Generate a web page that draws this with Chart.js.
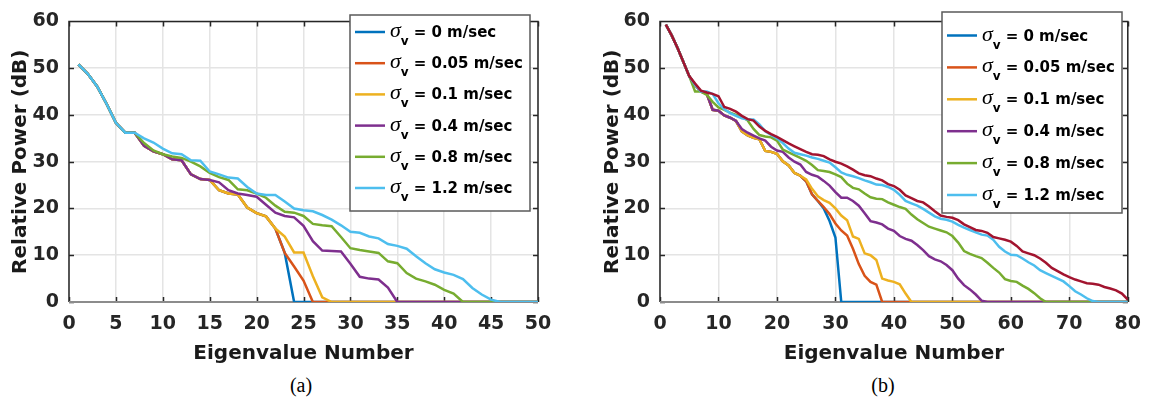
<!DOCTYPE html>
<html>
<head>
<meta charset="utf-8">
<script src="https://cdn.jsdelivr.net/npm/chart.js@4.4.1/dist/chart.umd.min.js"></script>
<style>
  html, body { margin: 0; padding: 0; background: #fff; }
  #wrap { position: relative; width: 1152px; height: 404px; overflow: hidden; }
  .panel { position: absolute; top: 0; width: 576px; height: 372px; }
  .cap { position: absolute; top: 374px; width: 60px; text-align: center;
         font: 20px "Liberation Serif", "Times New Roman", serif; color: #000; }
</style>
</head>
<body>
<div id="wrap">
  <div class="panel" style="left:0"><canvas id="chartA"></canvas></div>
  <div class="panel" style="left:576px"><canvas id="chartB"></canvas></div>
  <div class="cap" style="left:271px">(a)</div>
  <div class="cap" style="left:853px">(b)</div>
</div>
<script>
// sigma_v values used in the legend
const sigmaLabels = ['0', '0.05', '0.1', '0.4', '0.8', '1.2'];
const lineColors = ['#0072BD', '#D95319', '#EDB120', '#7E2F8E', '#77AC30', '#4DBEEE', '#A2142F'];

// (a) 50 eigenvalues
const eigA = Array.from({ length: 50 }, (_, i) => i + 1);
const xTicksA = [0, 5, 10, 15, 20, 25, 30, 35, 40, 45, 50];
const powA_0 = [
  50.8, 48.8, 46.1, 42.4, 38.3, 36.2, 36.2, 33.4, 32.2, 31.6,
  30.5, 30.3, 27.3, 26.3, 26.1, 23.9, 23.2, 23.0, 20.2, 19.0,
  18.3, 15.7, 10.5, 0, 0, 0, 0, 0, 0, 0,
  0, 0, 0, 0, 0, 0, 0, 0, 0, 0,
  0, 0, 0, 0, 0, 0, 0, 0, 0, 0];
const powA_005 = [
  50.8, 48.8, 46.1, 42.4, 38.3, 36.2, 36.2, 33.4, 32.2, 31.6,
  30.5, 30.3, 27.3, 26.3, 26.1, 23.9, 23.2, 23.0, 20.2, 19.0,
  18.3, 15.7, 10.5, 7.6, 4.6, 0, 0, 0, 0, 0,
  0, 0, 0, 0, 0, 0, 0, 0, 0, 0,
  0, 0, 0, 0, 0, 0, 0, 0, 0, 0];
const powA_01 = [
  50.8, 48.8, 46.1, 42.4, 38.3, 36.2, 36.2, 33.4, 32.2, 31.6,
  30.5, 30.3, 27.3, 26.3, 26.1, 23.9, 23.2, 23.0, 20.2, 19.0,
  18.3, 15.7, 14.0, 10.6, 10.6, 5.5, 1.0, 0, 0, 0,
  0, 0, 0, 0, 0, 0, 0, 0, 0, 0,
  0, 0, 0, 0, 0, 0, 0, 0, 0, 0];
const powA_04 = [
  50.8, 48.8, 46.1, 42.4, 38.3, 36.2, 36.2, 33.4, 32.2, 31.6,
  30.5, 30.3, 27.3, 26.3, 26.1, 25.6, 23.9, 23.2, 22.9, 22.5,
  20.8, 19.1, 18.4, 18.1, 16.3, 13.0, 11.0, 10.9, 10.8, 8.2,
  5.4, 5.0, 4.8, 3.1, 0, 0, 0, 0, 0, 0,
  0, 0, 0, 0, 0, 0, 0, 0, 0, 0];
const powA_08 = [
  50.8, 48.8, 46.1, 42.4, 38.3, 36.2, 36.2, 34.0, 32.4, 31.6,
  31.1, 30.8, 30.0, 29.0, 27.6, 26.7, 26.1, 24.1, 23.9, 23.2,
  22.3, 20.6, 19.3, 19.1, 18.4, 16.7, 16.4, 16.2, 13.9, 11.5,
  11.1, 10.8, 10.5, 8.7, 8.3, 6.2, 5.0, 4.4, 3.7, 2.6,
  1.8, 0, 0, 0, 0, 0, 0, 0, 0, 0];
const powA_12 = [
  50.8, 48.8, 46.1, 42.4, 38.3, 36.2, 36.2, 35.0, 34.1, 32.8,
  31.8, 31.6, 30.3, 30.2, 27.9, 27.3, 26.6, 26.4, 24.6, 23.2,
  22.9, 22.9, 21.5, 20.0, 19.6, 19.4, 18.6, 17.6, 16.4, 15.0,
  14.8, 14.0, 13.6, 12.4, 12.0, 11.4, 9.8, 8.3, 7.0, 6.3,
  5.8, 4.9, 3.0, 1.6, 0.5, 0, 0, 0, 0, 0];

// (b) 80 eigenvalues
const eigB = Array.from({ length: 80 }, (_, i) => i + 1);
const xTicksB = [0, 10, 20, 30, 40, 50, 60, 70, 80];
const powB_0 = [
  59.3, 57.0, 54.3, 51.3, 48.3, 46.4, 45.0, 44.5, 41.1, 40.9,
  39.9, 39.4, 38.7, 36.5, 35.6, 35.1, 34.8, 32.3, 32.1, 31.7,
  30.1, 29.2, 27.6, 27.0, 25.8, 23.0, 21.6, 20.0, 17.3, 13.8,
  0, 0, 0, 0, 0, 0, 0, 0, 0, 0,
  0, 0, 0, 0, 0, 0, 0, 0, 0, 0,
  0, 0, 0, 0, 0, 0, 0, 0, 0, 0,
  0, 0, 0, 0, 0, 0, 0, 0, 0, 0,
  0, 0, 0, 0, 0, 0, 0, 0, 0, 0];
const powB_005 = [
  59.3, 57.0, 54.3, 51.3, 48.3, 46.4, 45.0, 44.5, 41.1, 40.9,
  39.9, 39.4, 38.7, 36.5, 35.6, 35.1, 34.8, 32.3, 32.1, 31.7,
  30.1, 29.2, 27.6, 27.0, 25.8, 23.0, 21.6, 20.3, 18.8, 16.8,
  15.3, 14.2, 11.4, 8.1, 5.6, 4.3, 3.7, 0, 0, 0,
  0, 0, 0, 0, 0, 0, 0, 0, 0, 0,
  0, 0, 0, 0, 0, 0, 0, 0, 0, 0,
  0, 0, 0, 0, 0, 0, 0, 0, 0, 0,
  0, 0, 0, 0, 0, 0, 0, 0, 0, 0];
const powB_01 = [
  59.3, 57.0, 54.3, 51.3, 48.3, 46.4, 45.0, 44.5, 41.1, 40.9,
  39.9, 39.4, 38.7, 36.5, 35.6, 35.1, 34.8, 32.3, 32.1, 31.7,
  30.1, 29.2, 27.6, 27.0, 26.2, 24.2, 22.6, 21.8, 21.2, 20.0,
  18.5, 17.5, 14.0, 13.5, 10.4, 10.0, 9.0, 5.0, 4.6, 4.3,
  3.8, 1.8, 0, 0, 0, 0, 0, 0, 0, 0,
  0, 0, 0, 0, 0, 0, 0, 0, 0, 0,
  0, 0, 0, 0, 0, 0, 0, 0, 0, 0,
  0, 0, 0, 0, 0, 0, 0, 0, 0, 0];
const powB_04 = [
  59.3, 57.0, 54.3, 51.3, 48.3, 46.4, 45.0, 44.5, 41.1, 40.9,
  39.9, 39.4, 38.7, 37.0, 36.2, 35.6, 35.0, 34.5, 33.2, 32.4,
  32.1, 30.9, 30.0, 29.4, 27.8, 27.2, 26.8, 25.9, 24.9, 23.5,
  22.3, 22.3, 21.6, 20.6, 19.0, 17.3, 17.0, 16.6, 15.7, 15.2,
  14.1, 13.5, 13.1, 12.2, 11.1, 9.8, 9.1, 8.7, 7.9, 6.8,
  5.0, 3.6, 2.7, 1.6, 0.3, 0, 0, 0, 0, 0,
  0, 0, 0, 0, 0, 0, 0, 0, 0, 0,
  0, 0, 0, 0, 0, 0, 0, 0, 0, 0];
const powB_08 = [
  59.3, 57.0, 54.3, 51.3, 48.3, 45.0, 45.0, 44.3, 42.8, 41.6,
  41.1, 40.5, 40.0, 39.6, 38.8, 37.0, 35.7, 35.4, 35.2, 34.5,
  32.6, 32.0, 31.4, 30.8, 30.2, 29.3, 28.2, 28.0, 27.8, 27.3,
  26.7, 25.3, 24.4, 24.1, 23.2, 22.4, 22.1, 22.0, 21.3, 20.8,
  20.3, 19.9, 18.7, 17.7, 16.9, 16.1, 15.7, 15.3, 14.9, 14.1,
  12.7, 10.9, 10.3, 9.8, 9.4, 8.4, 7.3, 6.3, 4.9, 4.5,
  4.3, 3.5, 2.8, 1.9, 0.8, 0, 0, 0, 0, 0,
  0, 0, 0, 0, 0, 0, 0, 0, 0, 0];
const powB_12 = [
  59.3, 57.0, 54.3, 51.3, 48.3, 46.4, 45.0, 45.0, 44.5, 42.5,
  41.2, 40.4, 39.8, 39.3, 39.0, 39.0, 38.0, 36.5, 35.7, 35.0,
  34.0, 32.8, 31.9, 31.6, 31.3, 30.9, 30.6, 30.2, 29.8, 28.8,
  27.7, 27.2, 26.9, 26.5, 26.0, 25.6, 25.1, 25.0, 24.6, 24.0,
  22.9, 21.6, 21.1, 20.6, 19.9, 19.1, 18.3, 17.8, 17.6, 17.2,
  16.5, 15.9, 15.4, 14.9, 14.4, 14.2, 13.3, 11.8, 10.8, 10.1,
  10.0, 9.3, 8.5, 7.8, 6.8, 6.2, 5.6, 5.0, 4.4, 3.4,
  2.3, 1.6, 0.8, 0.2, 0, 0, 0, 0, 0, 0];
// extra (unlabelled) dark red curve in (b)
const powB_extra = [
  59.3, 57.0, 54.3, 51.3, 48.3, 46.7, 45.2, 44.8, 44.5, 44.0,
  41.7, 41.3, 40.7, 39.8, 39.1, 38.8, 37.5, 36.6, 35.9, 35.3,
  34.6, 33.9, 33.3, 32.7, 32.1, 31.6, 31.5, 31.2, 30.5, 30.0,
  29.6, 29.0, 28.3, 27.5, 27.1, 26.9, 26.4, 26.0, 25.2, 24.8,
  24.0, 22.8, 22.2, 21.6, 21.3, 20.4, 19.4, 18.5, 18.2, 18.0,
  17.5, 16.6, 16.0, 15.4, 15.2, 14.8, 13.9, 13.6, 13.3, 12.9,
  12.0, 10.8, 10.4, 10.0, 9.3, 8.4, 7.3, 6.6, 5.9, 5.3,
  4.8, 4.4, 4.0, 3.9, 3.7, 3.2, 2.9, 2.5, 1.8, 0.5];

const FONT = '"DejaVu Sans", "Liberation Sans", Arial, sans-serif';
const INK = '#262626';

// MATLAB style box with inward ticks, drawn under the curves
const axesBox = {
  id: 'axesBox',
  beforeDatasetsDraw(chart) {
    const { ctx, chartArea: a, scales: { x, y } } = chart;
    ctx.save();
    ctx.strokeStyle = INK;
    ctx.lineWidth = 1.5;
    ctx.beginPath();
    x.ticks.forEach(t => {
      const px = Math.round(x.getPixelForValue(t.value)) + 0.5;
      ctx.moveTo(px, a.bottom); ctx.lineTo(px, a.bottom - 5);
      ctx.moveTo(px, a.top); ctx.lineTo(px, a.top + 5);
    });
    y.ticks.forEach(t => {
      const py = Math.round(y.getPixelForValue(t.value)) + 0.5;
      ctx.moveTo(a.left, py); ctx.lineTo(a.left + 5, py);
      ctx.moveTo(a.right, py); ctx.lineTo(a.right - 5, py);
    });
    ctx.moveTo(a.left, a.bottom); ctx.lineTo(a.left, a.top);
    ctx.lineTo(a.right, a.top); ctx.lineTo(a.right, a.bottom);
    ctx.stroke();
    // bottom edge looks grey in the original
    ctx.strokeStyle = '#8c8c8c';
    ctx.lineWidth = 2;
    ctx.beginPath();
    ctx.moveTo(a.left, a.bottom); ctx.lineTo(a.right, a.bottom);
    ctx.stroke();
    ctx.restore();
  }
};

// legend with "sigma_v = ... m/sec" entries (subscript needs custom drawing)
const sigmaLegend = {
  id: 'sigmaLegend',
  afterDraw(chart, args, opts) {
    const { ctx } = chart;
    const { left, top, width, height, firstRow, rowGap } = opts;
    ctx.save();
    ctx.fillStyle = '#fff';
    ctx.fillRect(left, top, width, height);
    ctx.strokeStyle = '#5a5a5a';
    ctx.lineWidth = 1.5;
    ctx.strokeRect(left, top, width, height);
    chart.data.datasets.forEach((ds, i) => {
      if (!ds.sigma) return;
      const cy = top + firstRow + i * rowGap;
      ctx.strokeStyle = ds.borderColor;
      ctx.lineWidth = 2.5;
      ctx.beginPath();
      ctx.moveTo(left + 5, cy); ctx.lineTo(left + 35, cy);
      ctx.stroke();
      ctx.fillStyle = '#000';
      ctx.textBaseline = 'alphabetic';
      let x = left + 40;
      ctx.font = 'italic 22px "Liberation Serif", "Times New Roman", serif';
      ctx.fillText('σ', x, cy + 5);
      x += ctx.measureText('σ').width;
      ctx.font = 'bold 12px ' + FONT;
      ctx.fillText('v', x, cy + 13);
      x += ctx.measureText('v').width + 5;
      ctx.font = 'bold 15px ' + FONT;
      ctx.fillText('= ' + ds.sigma + ' m/sec', x, cy + 5);
    });
    ctx.restore();
  }
};

function makeChart(id, xs, series, xMax, xTicks, box) {
  const datasets = series.map((vals, i) => ({
    label: sigmaLabels[i] !== undefined ? 'σv = ' + sigmaLabels[i] + ' m/sec' : '',
    sigma: sigmaLabels[i],
    data: xs.map((n, k) => ({ x: n, y: vals[k] })),
    borderColor: lineColors[i],
    backgroundColor: lineColors[i],
    borderWidth: 2.5,
    pointRadius: 0,
    tension: 0,
    fill: false,
    order: series.length - i   // later curves on top, like MATLAB
  }));

  const config = {
    type: 'line',
    data: { datasets },
    options: {
      responsive: true,
      maintainAspectRatio: false,
      animation: false,
      devicePixelRatio: 1,
      layout: { autoPadding: false, padding: { left: 0, top: box.padTop, right: box.padRight, bottom: 0 } },
      plugins: {
        legend: { display: false },
        tooltip: { enabled: false },
        sigmaLegend: box.legend
      },
      scales: {
        x: {
          type: 'linear', min: 0, max: xMax,
          afterBuildTicks: s => { s.ticks = xTicks.map(v => ({ value: v })); },
          afterFit: s => { s.height = 70; },
          grid: { color: '#e4e4e4', lineWidth: 1.5, drawTicks: false },
          border: { display: false },
          ticks: { color: INK, padding: 11, font: { family: FONT, size: 19, weight: 'bold' } },
          title: { display: true, text: 'Eigenvalue Number', color: '#1a1a1a',
                   font: { family: FONT, size: 20, weight: 'bold' }, padding: { top: 0, bottom: 6 } }
        },
        y: {
          min: 0, max: 60,
          afterFit: s => { s.width = box.yWidth; },
          grid: { color: '#e4e4e4', lineWidth: 1.5, drawTicks: false },
          border: { display: false },
          ticks: { stepSize: 10, color: INK, padding: 10, font: { family: FONT, size: 19, weight: 'bold' } },
          title: { display: true, text: 'Relative Power (dB)', color: '#1a1a1a',
                   font: { family: FONT, size: 20, weight: 'bold' }, padding: { top: box.titlePad, bottom: 0 } }
        }
      }
    },
    plugins: [axesBox, sigmaLegend]
  };
  return new Chart(document.getElementById(id), config);
}

makeChart('chartA', eigA, [powA_0, powA_005, powA_01, powA_04, powA_08, powA_12], 50, xTicksA, {
  yWidth: 69, padTop: 8, padRight: 38, titlePad: 9,
  legend: { left: 350, top: 15, width: 180, height: 196, firstRow: 17, rowGap: 31.2 }
});
makeChart('chartB', eigB, [powB_0, powB_005, powB_01, powB_04, powB_08, powB_12, powB_extra], 80, xTicksB, {
  yWidth: 84, padTop: 10, padRight: 21, titlePad: 25,
  legend: { left: 366, top: 12, width: 180, height: 201, firstRow: 23.5, rowGap: 31.9 }
});
</script>
</body>
</html>
